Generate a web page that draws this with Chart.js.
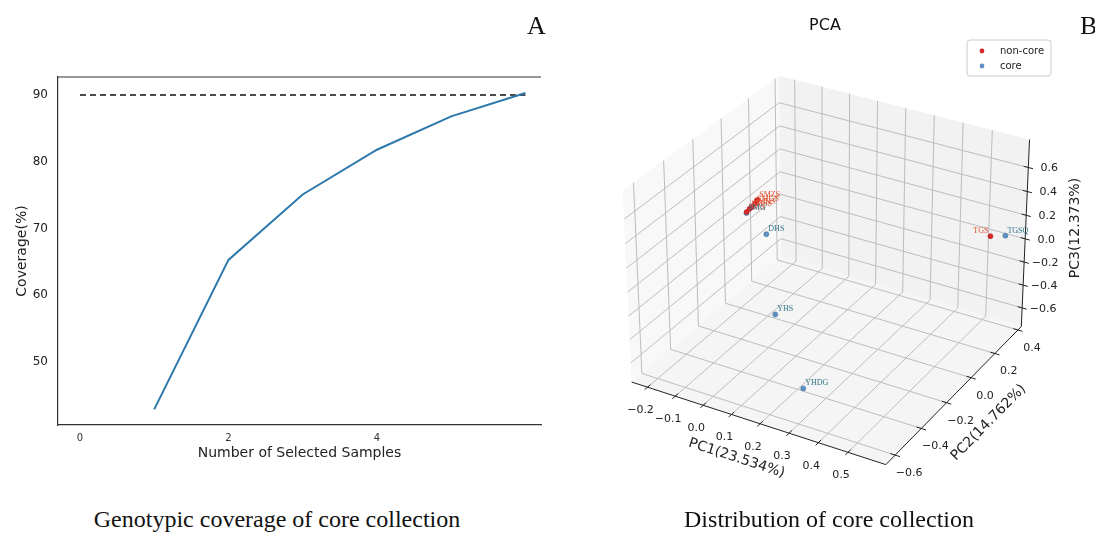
<!DOCTYPE html>
<html>
<head>
<meta charset="utf-8">
<title>Core collection</title>
<script src="https://cdn.jsdelivr.net/npm/chart.js@4.4.1/dist/chart.umd.min.js"></script>
<style>
  html, body { margin: 0; padding: 0; background: #fff; }
  body { width: 1095px; height: 533px; position: relative; overflow: hidden; font-family: 'DejaVu Sans', sans-serif; }
  #coverageCanvas { position: absolute; left: 0; top: 0; }
  #pcaCanvas { position: absolute; left: 560px; top: 0; }
  .tag { position: absolute; top: 13px; font-family: 'Liberation Serif', serif; font-size: 26px; line-height: 1; color: #111; }
  .caption { position: absolute; top: 507px; font-family: 'Liberation Serif', serif; font-size: 24px; line-height: 1; color: #111; white-space: nowrap; transform: translateX(-50%); }
  #pcaTitle { position: absolute; left: 825px; top: 17px; font-size: 16px; line-height: 1; color: #111; transform: translateX(-50%); }
</style>
</head>
<body>
<canvas id="coverageCanvas" width="560" height="480"></canvas>
<canvas id="pcaCanvas" width="535" height="533"></canvas>
<div class="tag" style="left:527px">A</div>
<div class="tag" style="left:1080px">B</div>
<div id="pcaTitle">PCA</div>
<div class="caption" style="left:277px">Genotypic coverage of core collection</div>
<div class="caption" style="left:829px">Distribution of core collection</div>

<script>
// ---------- panel A: coverage curve ----------
const sampleCounts = [1, 2, 3, 4, 5, 6];
const coveragePct = [42.9, 65.3, 75.1, 81.8, 86.8, 90.3];
const targetX = [0, 6];
const targetY = [90, 90];
const coverageXTicks = [0, 2, 4];
const coverageYTicks = [50, 60, 70, 80, 90];

// ---------- panel B: PCA scores ----------
const sampleNames = ['SMS', 'SMSS', 'SMHS', 'SMGS', 'SMZS', 'TGS', 'SMG', 'DHS', 'TGSQ', 'YHS', 'YHDG'];
const pc1Scores = [-0.222, -0.221, -0.223, -0.220, -0.222, 0.593, -0.223, -0.216, 0.609, 0.007, 0.290];
const pc2Scores = [0.10, 0.12, 0.14, 0.16, 0.18, 0.208, 0.10, 0.233, 0.297, -0.160, -0.545];
const pc3Scores = [-0.03, -0.02, -0.025, -0.01, 0.0, 0.21, -0.04, -0.345, 0.141, -0.51, -0.53];
const coreFlags = [0, 0, 0, 0, 0, 0, 1, 1, 1, 1, 1];
const pc1Ticks = [-0.2, -0.1, 0.0, 0.1, 0.2, 0.3, 0.4, 0.5];
const pc2Ticks = [-0.6, -0.4, -0.2, 0.0, 0.2, 0.4];
const pc3Ticks = [-0.6, -0.4, -0.2, 0.0, 0.2, 0.4, 0.6];
const pcAxisTitles = ['PC1(23.534%)', 'PC2(14.762%)', 'PC3(12.373%)'];
const groupLabels = ['non-core', 'core'];

const LIM = { x: [-0.258, 0.626], y: [-0.67, 0.43], z: [-0.765, 0.83] };
const VIEW = { elev: 30, azim: -60, dist: 10 };
const BOX_ASPECT = [4, 4, 3];
const PLANE = { x: [-0.10409, 0.10219], y: [-0.10486, 0.10069] };

const RED = '#d62728';
const BLUE = '#5f92c4';
const INK = '#222';

// top spine for panel A (matplotlib style box without the right side)
const topSpine = {
    id: 'topSpine',
    afterDraw(chart) {
        const { ctx, chartArea } = chart;
        ctx.save();
        ctx.strokeStyle = '#333';
        ctx.lineWidth = 1.2;
        ctx.beginPath();
        ctx.moveTo(chartArea.left, chartArea.top);
        ctx.lineTo(chartArea.right, chartArea.top);
        ctx.stroke();
        ctx.restore();
    }
};

new Chart(document.getElementById('coverageCanvas'), {
    type: 'line',
    data: {
        datasets: [{
            label: 'Coverage',
            data: sampleCounts.map((n, i) => ({ x: n, y: coveragePct[i] })),
            borderColor: '#2d78ab',
            borderWidth: 2,
            pointRadius: 0,
            tension: 0
        }, {
            label: '90%',
            data: targetX.map((x, i) => ({ x, y: targetY[i] })),
            borderColor: '#111',
            borderWidth: 1.6,
            borderDash: [6, 4],
            pointRadius: 0
        }]
    },
    options: {
        responsive: false,
        animation: false,
        layout: { padding: { top: 77, right: 19, left: 0, bottom: 0 } },
        plugins: { legend: { display: false }, tooltip: { enabled: false } },
        scales: {
            x: {
                type: 'linear',
                min: -0.296,
                max: 6.21,
                afterBuildTicks: s => { s.ticks = coverageXTicks.map(v => ({ value: v })); },
                afterFit: s => { s.height = 55; },
                grid: { display: false, drawTicks: false },
                border: { display: true, color: '#333', width: 1.2 },
                ticks: { font: { family: 'DejaVu Sans', size: 10 }, color: '#333', padding: 7 },
                title: { display: true, text: 'Number of Selected Samples', color: INK,
                         font: { family: 'DejaVu Sans', size: 14 }, padding: { bottom: 18 } }
            },
            y: {
                type: 'linear',
                min: 40.56,
                max: 92.7,
                afterBuildTicks: s => { s.ticks = coverageYTicks.map(v => ({ value: v })); },
                afterFit: s => { s.width = 58; },
                grid: { display: false, drawTicks: false },
                border: { display: true, color: '#333', width: 1.2 },
                ticks: { font: { family: 'DejaVu Sans', size: 12 }, color: '#222', padding: 10 },
                title: { display: true, text: 'Coverage(%)', color: INK,
                         font: { family: 'DejaVu Sans', size: 14 }, padding: { top: 14 } }
            }
        }
    },
    plugins: [topSpine]
});

// ---------- matplotlib-like perspective camera ----------
function vsub(a, b) { return [a[0] - b[0], a[1] - b[1], a[2] - b[2]]; }
function vdot(a, b) { return a[0] * b[0] + a[1] * b[1] + a[2] * b[2]; }
function vcross(a, b) { return [a[1] * b[2] - a[2] * b[1], a[2] * b[0] - a[0] * b[2], a[0] * b[1] - a[1] * b[0]]; }
function vnorm(a) { const l = Math.hypot(a[0], a[1], a[2]); return a.map(c => c / l); }

const camera = (() => {
    const el = VIEW.elev * Math.PI / 180, az = VIEW.azim * Math.PI / 180;
    const len = Math.hypot(...BOX_ASPECT);
    const aspect = BOX_ASPECT.map(a => a * 1.8294640721620434 / len);
    const centre = aspect.map(a => a / 2);
    const eye = [
        centre[0] + Math.cos(el) * Math.cos(az) * VIEW.dist,
        centre[1] + Math.cos(el) * Math.sin(az) * VIEW.dist,
        centre[2] + Math.sin(el) * VIEW.dist
    ];
    const n = vnorm(vsub(eye, centre));
    const u = vnorm(vcross([0, 0, 1], n));
    const v = vcross(n, u);
    return { aspect, eye, n, u, v };
})();

function project(X, Y, Z) {
    const p = [
        (X - LIM.x[0]) / (LIM.x[1] - LIM.x[0]) * camera.aspect[0],
        (Y - LIM.y[0]) / (LIM.y[1] - LIM.y[0]) * camera.aspect[1],
        (Z - LIM.z[0]) / (LIM.z[1] - LIM.z[0]) * camera.aspect[2]
    ];
    const d = vsub(p, camera.eye);
    const w = -vdot(camera.n, d);
    return { x: vdot(camera.u, d) / w, y: vdot(camera.v, d) / w };
}

const pcaPoints = sampleNames.map((name, i) => ({
    ...project(pc1Scores[i], pc2Scores[i], pc3Scores[i]),
    name,
    core: coreFlags[i]
}));

// panes, grid, axes, ticks of the 3D box
const pcaFrame = {
    id: 'pcaFrame',
    beforeDatasetsDraw(chart) {
        const ctx = chart.ctx;
        const sx = chart.scales.x, sy = chart.scales.y;
        const P = (X, Y, Z) => { const q = project(X, Y, Z); return [sx.getPixelForValue(q.x), sy.getPixelForValue(q.y)]; };
        const [x0, x1] = LIM.x, [y0, y1] = LIM.y, [z0, z1] = LIM.z;
        const poly = (pts, fill) => {
            ctx.beginPath();
            pts.forEach((p, i) => i ? ctx.lineTo(p[0], p[1]) : ctx.moveTo(p[0], p[1]));
            ctx.closePath();
            ctx.fillStyle = fill;
            ctx.fill();
        };
        const seg = (a, b) => { ctx.beginPath(); ctx.moveTo(a[0], a[1]); ctx.lineTo(b[0], b[1]); ctx.stroke(); };
        ctx.save();
        poly([P(x0, y0, z0), P(x0, y1, z0), P(x0, y1, z1), P(x0, y0, z1)], '#f8f8f8');
        poly([P(x0, y1, z0), P(x1, y1, z0), P(x1, y1, z1), P(x0, y1, z1)], '#f2f2f2');
        poly([P(x0, y0, z0), P(x1, y0, z0), P(x1, y1, z0), P(x0, y1, z0)], '#f5f5f5');

        ctx.strokeStyle = '#bdbdbd';
        ctx.lineWidth = 1;
        pc1Ticks.forEach(t => { seg(P(t, y0, z0), P(t, y1, z0)); seg(P(t, y1, z0), P(t, y1, z1)); });
        pc2Ticks.forEach(t => { seg(P(x0, t, z0), P(x1, t, z0)); seg(P(x0, t, z0), P(x0, t, z1)); });
        pc3Ticks.forEach(t => { seg(P(x0, y0, t), P(x0, y1, t)); seg(P(x0, y1, t), P(x1, y1, t)); });

        // axis lines
        ctx.strokeStyle = INK;
        ctx.lineWidth = 1;
        seg(P(x0, y0, z0), P(x1, y0, z0));
        seg(P(x1, y0, z0), P(x1, y1, z0));
        seg(P(x1, y1, z0), P(x1, y1, z1));

        const dx = (x1 - x0) * 0.018, dy = (y1 - y0) * 0.018;
        ctx.font = '11px "DejaVu Sans"';
        ctx.fillStyle = INK;
        ctx.textAlign = 'center';
        ctx.textBaseline = 'middle';
        const lbl = v => (v < 0 ? '\u2212' : '') + Math.abs(v).toFixed(1);
        pc1Ticks.forEach(t => {
            seg(P(t, y0 - dy, z0), P(t, y0 + dy, z0));
            const p = P(t, y0, z0);
            ctx.fillText(lbl(t), p[0] - 7, p[1] + 23);
        });
        pc2Ticks.forEach(t => {
            seg(P(x1 - dx, t, z0), P(x1 + dx, t, z0));
            const p = P(x1, t, z0);
            ctx.fillText(lbl(t), p[0] + 14, p[1] + 18);
        });
        pc3Ticks.forEach(t => {
            seg(P(x1 - dx, y1, t), P(x1 + dx, y1, t));
            const p = P(x1, y1, t);
            ctx.fillText(lbl(t), p[0] + 21, p[1] + 1);
        });

        // axis titles
        ctx.font = '14px "DejaVu Sans"';
        const title = (a, b, off, text, rot) => {
            const ang = rot !== undefined ? rot : Math.atan2(b[1] - a[1], b[0] - a[0]);
            ctx.save();
            ctx.translate((a[0] + b[0]) / 2 + off[0], (a[1] + b[1]) / 2 + off[1]);
            ctx.rotate(ang);
            ctx.fillText(text, 0, 0);
            ctx.restore();
        };
        title(P(x0, y0, z0), P(x1, y0, z0), [-22, 35], pcAxisTitles[0]);
        title(P(x1, y0, z0), P(x1, y1, z0), [35, 27], pcAxisTitles[1]);
        title(P(x1, y1, z0), P(x1, y1, z1), [50, -5], pcAxisTitles[2], -Math.PI / 2);
        ctx.restore();
    },
    afterDatasetsDraw(chart) {
        const ctx = chart.ctx;
        ctx.save();
        ctx.font = '8px "Liberation Serif"';
        ctx.textBaseline = 'bottom';
        chart.data.datasets.forEach((ds, di) => {
            const meta = chart.getDatasetMeta(di);
            ctx.fillStyle = di === 0 ? '#e0502e' : '#2f7488';
            ds.data.forEach((pt, j) => {
                const el = meta.data[j];
                if (pt.name === 'TGS') {
                    ctx.textAlign = 'right';
                    ctx.fillText(pt.name, el.x - 2, el.y - 1);
                } else {
                    ctx.textAlign = 'left';
                    ctx.fillText(pt.name, el.x + 2, el.y - 1);
                }
            });
        });

        // legend box
        const lx = 967 - 560, ly = 40;
        ctx.fillStyle = 'rgba(255,255,255,0.85)';
        ctx.strokeStyle = '#cccccc';
        ctx.lineWidth = 1;
        ctx.beginPath();
        ctx.roundRect(lx, ly, 84, 36, 3);
        ctx.fill();
        ctx.stroke();
        ctx.font = '10px "DejaVu Sans"';
        ctx.textAlign = 'left';
        ctx.textBaseline = 'middle';
        [RED, BLUE].forEach((c, i) => {
            const yy = ly + 11 + i * 15;
            ctx.fillStyle = c;
            ctx.beginPath();
            ctx.arc(lx + 15, yy, 2.4, 0, Math.PI * 2);
            ctx.fill();
            ctx.fillStyle = INK;
            ctx.fillText(groupLabels[i], lx + 33, yy);
        });
        ctx.restore();
    }
};

new Chart(document.getElementById('pcaCanvas'), {
    type: 'scatter',
    data: {
        datasets: [{
            label: groupLabels[0],
            data: pcaPoints.filter(p => !p.core),
            backgroundColor: RED,
            borderColor: '#b41f1f',
            borderWidth: 0.6,
            pointRadius: 2.5
        }, {
            label: groupLabels[1],
            data: pcaPoints.filter(p => p.core),
            backgroundColor: BLUE,
            borderColor: '#3f6f9c',
            borderWidth: 0.6,
            pointRadius: 2.5
        }]
    },
    options: {
        responsive: false,
        animation: false,
        layout: { padding: 0 },
        plugins: { legend: { display: false }, tooltip: { enabled: false } },
        scales: {
            x: { type: 'linear', display: false, min: PLANE.x[0], max: PLANE.x[1] },
            y: { type: 'linear', display: false, min: PLANE.y[0], max: PLANE.y[1] }
        }
    },
    plugins: [pcaFrame]
});
</script>
</body>
</html>
